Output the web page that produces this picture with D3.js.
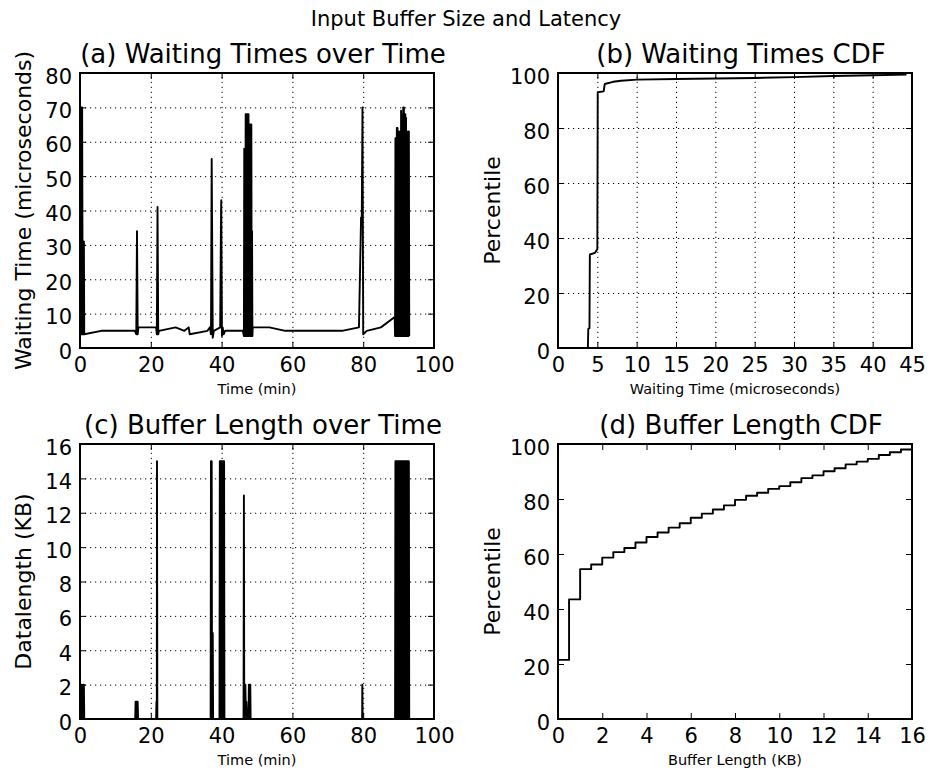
<!DOCTYPE html>
<html>
<head>
<meta charset="utf-8">
<script src="https://cdn.jsdelivr.net/npm/d3@7"></script>
<style>
  body { margin: 0; background: #fff; }
  svg text { font-family: "DejaVu Sans", sans-serif; fill: #000; }
</style>
</head>
<body>
<div id="chart"></div>
<script>
// waiting time over time: [minute, microseconds]
const waitingSeries = [
    [0.1, 4], [0.2, 70], [0.3, 4], [0.4, 70], [0.5, 4], [0.6, 70], [0.7, 31], [0.8, 4], [0.9, 31], [1.0, 4], [1.1, 31], [1.2, 4],
    [6, 5], [15.5, 5], [15.9, 4], [16.1, 34], [16.3, 4], [16.5, 6], [21.5, 6], [21.7, 4], [21.9, 41], [22.1, 4], [22.3, 5],
    [27, 6], [29.5, 5], [30.7, 6], [31, 4], [36, 5], [36.7, 6], [37, 4], [37.2, 55], [37.5, 3], [37.8, 5],
    [39.6, 6], [39.8, 34], [39.9, 43], [40.1, 3.5], [40.3, 6], [40.6, 4], [41, 5], [46, 5],
    [46.3, 3.5], [46.4, 58], [46.5, 3.5], [46.6, 58], [46.7, 3.5], [46.8, 68], [46.9, 3.5], [47.0, 68], [47.1, 3.5], [47.2, 68],
    [47.3, 3.5], [47.4, 68], [47.5, 3.5], [47.6, 68], [47.7, 3.5], [47.8, 65], [47.9, 3.5], [48.0, 65], [48.1, 3.5], [48.2, 65],
    [48.3, 3.5], [48.4, 65], [48.5, 3.5], [48.6, 34], [48.7, 3.5], [48.8, 6],
    [53.5, 6], [58, 5], [74, 5], [78.8, 6], [79.4, 38], [79.6, 38], [79.8, 70], [80.0, 4], [81, 5], [85, 6], [88.9, 9],
    [89.0, 3.5], [89.1, 61], [89.2, 3.5], [89.3, 61], [89.4, 3.5], [89.5, 64], [89.6, 3.5], [89.7, 64], [89.8, 3.5], [89.9, 63],
    [90.0, 3.5], [90.1, 63], [90.2, 3.5], [90.3, 50], [90.4, 3.5], [90.5, 63], [90.6, 3.5], [90.7, 69], [90.8, 3.5], [90.9, 68],
    [91.0, 3.5], [91.1, 66], [91.2, 3.5], [91.3, 70], [91.4, 3.5], [91.5, 70], [91.6, 3.5], [91.7, 68], [91.8, 3.5], [91.9, 68],
    [92.0, 3.5], [92.1, 67], [92.2, 3.5], [92.3, 63], [92.4, 3.5], [92.5, 62], [92.6, 3.5], [92.7, 63], [92.8, 3.5], [92.9, 63],
    [93.0, 3.5]
];

// waiting time CDF: [microseconds, percentile]
const waitingCdf = [
    [3.8, 0], [3.85, 7], [4.0, 7.2], [4.05, 34], [4.7, 34.6], [4.9, 35.5], [5.0, 36], [5.05, 93], [5.8, 93.3], [5.95, 96],
    [7, 96.8], [8, 97.2], [10, 97.6], [15, 97.8], [20, 98], [25, 98.2], [30, 98.5], [35, 98.9], [40, 99.2], [44.3, 99.4]
];

// buffer length over time: [minute, KB]
const bufferSeries = [
    [0.1, 0], [0.2, 2], [0.3, 0], [0.4, 2], [0.5, 1], [0.6, 0], [0.7, 1], [0.8, 0], [0.9, 2], [1.0, 0], [1.1, 2], [1.2, 0],
    [15.6, 0], [15.7, 1], [15.8, 0], [15.9, 1], [16.0, 0], [16.1, 1], [16.2, 0], [16.3, 1], [16.4, 0],
    [21.5, 0], [21.6, 1], [21.7, 0], [21.75, 15], [21.85, 0],
    [36.9, 0], [37.0, 15], [37.1, 0], [37.2, 15], [37.3, 0], [37.5, 5], [37.6, 0],
    [39.4, 0], [39.5, 15], [39.6, 0], [39.7, 15], [39.8, 0], [39.9, 15], [40.0, 0], [40.1, 15], [40.2, 0], [40.3, 15],
    [40.4, 0], [40.5, 15], [40.6, 0], [40.7, 15], [40.8, 0],
    [46.2, 0], [46.3, 13], [46.4, 0], [46.5, 2], [46.6, 0], [46.7, 2], [46.8, 1], [47.0, 1], [47.2, 0], [47.6, 0], [47.7, 2],
    [47.8, 0], [47.9, 2], [48.0, 0], [48.1, 2], [48.2, 0],
    [79.7, 0], [79.75, 2], [79.85, 0],
    [89.0, 0], [89.1, 15], [89.2, 0], [89.3, 15], [89.4, 0], [89.5, 15], [89.6, 0], [89.7, 15], [89.8, 0], [89.9, 15],
    [90.0, 0], [90.1, 15], [90.2, 0], [90.3, 15], [90.4, 0], [90.5, 15], [90.6, 0], [90.7, 15], [90.8, 0], [90.9, 15],
    [91.0, 0], [91.1, 15], [91.2, 0], [91.3, 15], [91.4, 0], [91.5, 15], [91.6, 0], [91.7, 15], [91.8, 0], [91.9, 15],
    [92.0, 0], [92.1, 15], [92.2, 0], [92.3, 15], [92.4, 0], [92.5, 15], [92.6, 0], [92.7, 15], [92.8, 0], [92.9, 15],
    [93.0, 0]
];

// buffer length CDF (steps every 0.5 KB)
const bufferCdfKB = [0, 0.5, 1, 1.5, 2, 2.5, 3, 3.5, 4, 4.5, 5, 5.5, 6, 6.5, 7, 7.5, 8, 8.5, 9, 9.5, 10, 10.5, 11, 11.5, 12, 12.5, 13, 13.5, 14, 14.5, 15, 15.5, 16];
const bufferCdfPct = [21.5, 43.5, 54.5, 56.2, 58.7, 60.7, 62.2, 64.2, 66.2, 67.8, 69.6, 71.2, 73.2, 74.7, 76.2, 77.7, 79.7, 81.2, 82.3, 83.7, 84.7, 86.1, 87.6, 88.6, 90.1, 91.2, 92.6, 93.6, 94.6, 96, 97, 98, 99];

// tick values
const timeTicks = [0, 20, 40, 60, 80, 100];
const waitTicks = [0, 10, 20, 30, 40, 50, 60, 70, 80];
const waitCdfTicks = [0, 5, 10, 15, 20, 25, 30, 35, 40, 45];
const percentTicks = [0, 20, 40, 60, 80, 100];
const bufferTicks = [0, 2, 4, 6, 8, 10, 12, 14, 16];

let W = 932, H = 774;
let pw = 354, ph = 275;

let svg = d3.select("#chart").append("svg")
    .attr("width", W)
    .attr("height", H);

svg.append("text")
    .attr("x", 466).attr("y", 26)
    .attr("text-anchor", "middle")
    .style("font-size", "21px")
    .text("Input Buffer Size and Latency");

function drawPanel(cfg) {
    let g = svg.append("g")
        .attr("transform", "translate(" + cfg.left + "," + cfg.top + ")");

    let x = d3.scaleLinear().domain(cfg.xDomain).range([0, pw]);
    let y = d3.scaleLinear().domain(cfg.yDomain).range([ph, 0]);

    // dotted grid
    if (cfg.grid) {
        g.append("g")
            .attr("transform", "translate(0," + ph + ")")
            .call(d3.axisBottom(x).tickValues(cfg.xTicks).tickSize(-ph).tickFormat(""))
            .call(s => s.select(".domain").remove())
            .selectAll("line")
            .attr("stroke", "#000").attr("stroke-width", 1).attr("stroke-dasharray", "1.2,3.8");
        g.append("g")
            .call(d3.axisLeft(y).tickValues(cfg.yTicks).tickSize(-pw).tickFormat(""))
            .call(s => s.select(".domain").remove())
            .selectAll("line")
            .attr("stroke", "#000").attr("stroke-width", 1).attr("stroke-dasharray", "1.2,3.8");
    }

    let clipId = "clip-" + cfg.id;
    g.append("clipPath").attr("id", clipId)
        .append("rect").attr("width", pw).attr("height", ph);

    let line = d3.line()
        .x(d => x(d[0]))
        .y(d => y(d[1]))
        .curve(cfg.curve || d3.curveLinear);

    g.append("path")
        .datum(cfg.data)
        .attr("clip-path", "url(#" + clipId + ")")
        .attr("fill", "none")
        .attr("stroke", "#000")
        .attr("stroke-width", 1.9)
        .attr("stroke-linejoin", "round")
        .attr("d", line);

    // axes, ticks pointing inwards
    let xa = g.append("g")
        .attr("transform", "translate(0," + ph + ")")
        .call(d3.axisBottom(x).tickValues(cfg.xTicks).tickSize(-6).tickPadding(9));
    let ya = g.append("g")
        .call(d3.axisLeft(y).tickValues(cfg.yTicks).tickSize(-6).tickPadding(8));
    g.append("g")
        .call(d3.axisTop(x).tickValues(cfg.xTicks).tickSize(-6).tickFormat(""));
    g.append("g")
        .attr("transform", "translate(" + pw + ",0)")
        .call(d3.axisRight(y).tickValues(cfg.yTicks).tickSize(-6).tickFormat(""));

    g.selectAll(".domain").remove();
    g.selectAll(".tick line:not([stroke-dasharray])").attr("stroke", "#000");
    [xa, ya].forEach(a => a.attr("font-family", null).attr("font-size", null));
    xa.selectAll("text").style("font-size", "21px");
    ya.selectAll("text").style("font-size", "21px").attr("dy", "0.48em");

    g.append("rect")
        .attr("width", pw).attr("height", ph)
        .attr("fill", "none").attr("stroke", "#000").attr("stroke-width", 2);

    // titles and labels
    g.append("text")
        .attr("x", pw / 2 + 6).attr("y", -10)
        .attr("text-anchor", "middle")
        .style("font-size", "26px")
        .text(cfg.title);
    g.append("text")
        .attr("x", pw / 2).attr("y", ph + 46)
        .attr("text-anchor", "middle")
        .style("font-size", "14.5px")
        .text(cfg.xLabel);
    g.append("text")
        .attr("transform", "translate(" + cfg.yLabelX + "," + (ph / 2) + ") rotate(-90)")
        .attr("text-anchor", "middle")
        .style("font-size", "22px")
        .text(cfg.yLabel);
}

drawPanel({
    id: "a", left: 80, top: 73,
    xDomain: [0, 100], yDomain: [0, 80], xTicks: timeTicks, yTicks: waitTicks,
    data: waitingSeries, grid: true,
    title: "(a) Waiting Times over Time", xLabel: "Time (min)",
    yLabel: "Waiting Time (microseconds)", yLabelX: -49
});

drawPanel({
    id: "b", left: 558, top: 73,
    xDomain: [0, 45], yDomain: [0, 100], xTicks: waitCdfTicks, yTicks: percentTicks,
    data: waitingCdf, grid: true,
    title: "(b) Waiting Times CDF", xLabel: "Waiting Time (microseconds)",
    yLabel: "Percentile", yLabelX: -58
});

drawPanel({
    id: "c", left: 80, top: 444,
    xDomain: [0, 100], yDomain: [0, 16], xTicks: timeTicks, yTicks: bufferTicks,
    data: bufferSeries, grid: true,
    title: "(c) Buffer Length over Time", xLabel: "Time (min)",
    yLabel: "Datalength (KB)", yLabelX: -49
});

drawPanel({
    id: "d", left: 558, top: 444,
    xDomain: [0, 16], yDomain: [0, 100], xTicks: bufferTicks, yTicks: percentTicks,
    data: bufferCdfKB.map((k, i) => [k, bufferCdfPct[i]]), grid: false, curve: d3.curveStepAfter,
    title: "(d) Buffer Length CDF", xLabel: "Buffer Length (KB)",
    yLabel: "Percentile", yLabelX: -58
});
</script>
</body>
</html>
